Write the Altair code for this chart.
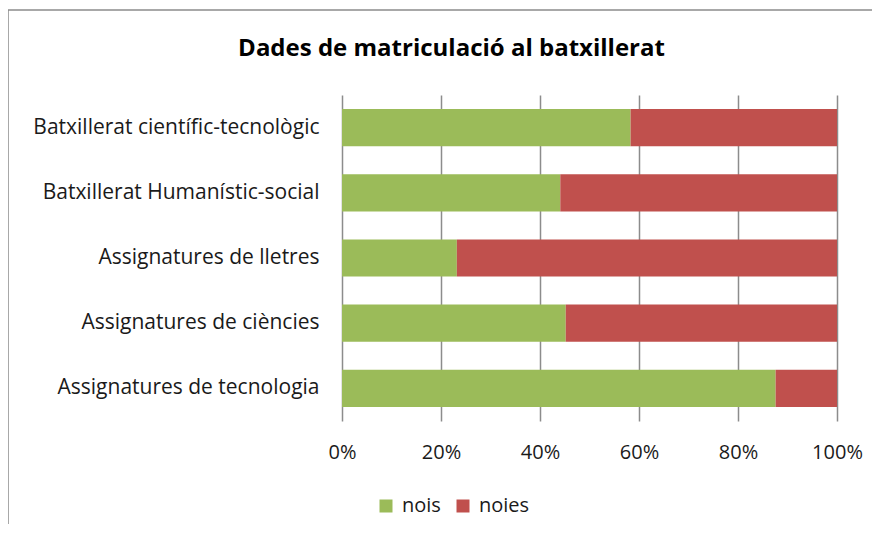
import altair as alt
import pandas as pd

categories = [
    "Batxillerat científic-tecnològic",
    "Batxillerat Humanístic-social",
    "Assignatures de lletres",
    "Assignatures de ciències",
    "Assignatures de tecnologia",
]
nois = [58.3, 44.1, 23.2, 45.2, 87.6]
noies = [41.7, 55.9, 76.8, 54.8, 12.4]
series = ["nois", "noies"]
colors = ["#9BBB59", "#C0504D"]
tick_values = [0, 0.2, 0.4, 0.6, 0.8, 1.0]

rows = []
for c, a, b in zip(categories, nois, noies):
    rows.append({"categoria": c, "sexe": series[0], "ordre": 0, "valor": a})
    rows.append({"categoria": c, "sexe": series[1], "ordre": 1, "valor": b})
df = pd.DataFrame(rows)

FONT = "Open Sans"

frame = alt.Chart(pd.DataFrame({"k": [0]})).mark_rect(
    fillOpacity=0, stroke="#8c8c8c", strokeWidth=1.5
).encode(
    x=alt.value(-334), x2=alt.value(545), y=alt.value(-85), y2=alt.value(450)
)

bars = alt.Chart(df).mark_bar().encode(
    y=alt.Y(
        "categoria:N",
        sort=categories,
        title=None,
        scale=alt.Scale(paddingInner=0.43, paddingOuter=0.215),
        axis=alt.Axis(
            ticks=False, domain=False, grid=False, labelPadding=23,
            labelFontSize=21, labelFont=FONT, labelColor="#1a1a1a", labelLimit=400,
        ),
    ),
    x=alt.X(
        "valor:Q",
        stack="normalize",
        title=None,
        axis=alt.Axis(
            format="%", values=tick_values, ticks=False, domain=False, grid=True,
            gridColor="#8c8c8c", gridWidth=1.5, labelPadding=21, labelFlush=False,
            labelFontSize=20, labelFont=FONT, labelColor="#1a1a1a",
        ),
    ),
    color=alt.Color(
        "sexe:N",
        sort=series,
        scale=alt.Scale(domain=series, range=colors),
        legend=alt.Legend(
            title=None, orient="none", legendX=34, legendY=401, direction="horizontal",
            symbolType="square", symbolSize=169, symbolStrokeWidth=0, symbolOpacity=1,
            labelFontSize=20, labelFont=FONT, labelColor="#1a1a1a",
            labelOffset=6, columnPadding=12,
        ),
    ),
    order=alt.Order("ordre:Q"),
)

chart = alt.layer(frame, bars).properties(
    width=495,
    height=326,
    title=alt.Title(
        "Dades de matriculació al batxillerat",
        fontSize=24, fontWeight="bold", font=FONT, color="black",
        anchor="middle", dx=-138, offset=0, dy=52,
    ),
    autosize=alt.AutoSizeParams(type="none"),
    padding={"left": 334, "top": 87, "right": 35, "bottom": 103},
).configure_view(stroke=None)

chart.save("out.html", embed_options={"renderer": "svg", "actions": False})
